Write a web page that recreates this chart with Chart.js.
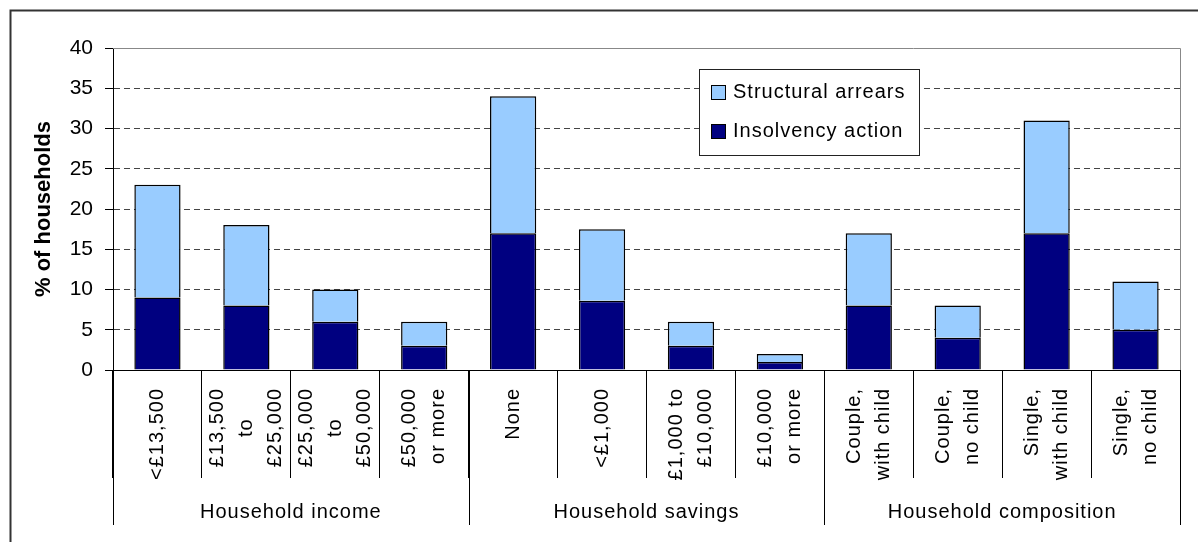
<!DOCTYPE html>
<html>
<head>
<meta charset="utf-8">
<script src="https://cdn.jsdelivr.net/npm/chart.js@4"></script>
<style>
body{margin:0;background:#fff;}
</style>
</head>
<body>
<canvas id="grafico" width="1198" height="542"></canvas>
<script>
var categorias = [["<£13,500"], ["£13,500","to","£25,000"], ["£25,000","to","£50,000"], ["£50,000","or more"],
                  ["None"], ["<£1,000"], ["£1,000 to","£10,000"], ["£10,000","or more"],
                  ["Couple,","with child"], ["Couple,","no child"], ["Single,","with child"], ["Single,","no child"]];
var grupos = ["Household income","Household savings","Household composition"];
var tamGrupos = [4,4,4];
var insolvencia = [9, 8, 6, 3, 17, 8.6, 3, 1, 8, 4, 17, 5];
var atrasos = [14, 10, 4, 3, 17, 8.9, 3, 1, 9, 4, 14, 6];
var yMin = 0, yMax = 40, yPaso = 5;

var fuente = '"Liberation Sans", Arial, sans-serif';
var azulClaro = '#99CCFF', azulOscuro = '#000080';

Chart.defaults.font.family = fuente;
Chart.defaults.color = '#000';

// marco, etiquetas de categoria, grupos y leyenda
var extras = {
  id: 'extras',
  beforeDraw: function(chart){
    var ctx = chart.ctx;
    ctx.save();
    ctx.fillStyle = '#fff';
    ctx.fillRect(0, 0, chart.width, chart.height);
    ctx.strokeStyle = '#333';
    ctx.lineWidth = 2;
    ctx.strokeRect(10.5, 10.5, chart.width + 20, chart.height + 20);
    ctx.restore();
  },
  afterDraw: function(chart){
    var ctx = chart.ctx, x = chart.scales.x, y = chart.scales.y;
    var paso = x.getPixelForValue(1) - x.getPixelForValue(0);
    var arriba = Math.round(y.getPixelForValue(yMax)) + 0.5;
    var base = Math.round(y.getPixelForValue(0));
    var der = Math.round(x.right) + 0.5;

    ctx.save();
    // borde gris del area de trazado
    ctx.strokeStyle = '#888';
    ctx.lineWidth = 1;
    ctx.beginPath();
    ctx.moveTo(x.left, arriba);
    ctx.lineTo(der, arriba);
    ctx.lineTo(der, base);
    ctx.stroke();

    ctx.font = '20px ' + fuente;
    ctx.letterSpacing = '1px';
    ctx.fillStyle = '#000';

    // etiquetas giradas
    var topeY = base + 18;
    var interlinea = 29;
    for (var i = 0; i < chart.data.labels.length; i++) {
      var lineas = chart.data.labels[i];
      var cx = x.getPixelForValue(i);
      var maxAncho = 0;
      for (var k = 0; k < lineas.length; k++) maxAncho = Math.max(maxAncho, ctx.measureText(lineas[k]).width);
      for (var j = 0; j < lineas.length; j++) {
        var lx = cx + (j - (lineas.length - 1) / 2) * interlinea;
        ctx.save();
        ctx.translate(lx, topeY);
        ctx.rotate(-Math.PI / 2);
        ctx.textBaseline = 'middle';
        if (lineas.length == 3 && j == 1) {
          ctx.textAlign = 'center';
          ctx.fillText(lineas[j], -maxAncho / 2, 0);
        } else {
          ctx.textAlign = 'right';
          ctx.fillText(lineas[j], 0, 0);
        }
        ctx.restore();
      }
    }

    // separadores y nombres de grupo
    ctx.strokeStyle = '#000';
    ctx.lineWidth = 1;
    var ini = 0;
    for (var g = 0; g <= grupos.length; g++) {
      var gx = Math.round(x.getPixelForValue(ini) - paso / 2) + 0.5;
      ctx.beginPath();
      ctx.moveTo(gx, base);
      ctx.lineTo(gx, base + 155);
      ctx.stroke();
      if (g < grupos.length) {
        var centro = x.getPixelForValue(ini) - paso / 2 + tamGrupos[g] * paso / 2;
        ctx.textAlign = 'center';
        ctx.textBaseline = 'middle';
        ctx.fillText(grupos[g], centro, base + 142);
        ini += tamGrupos[g];
      }
    }

    // leyenda
    var lx0 = 699.5, ly0 = 69.5;
    ctx.fillStyle = '#fff';
    ctx.fillRect(lx0, ly0, 220, 86);
    ctx.strokeStyle = '#222';
    ctx.strokeRect(lx0, ly0, 220, 86);
    var items = chart.data.datasets.slice().reverse();
    for (var m = 0; m < items.length; m++) {
      var iy = ly0 + 23 + m * 39;
      ctx.fillStyle = items[m].backgroundColor;
      ctx.fillRect(711.5, iy - 7, 14, 14);
      ctx.strokeStyle = '#000';
      ctx.strokeRect(711.5, iy - 7, 14, 14);
      ctx.fillStyle = '#000';
      ctx.textAlign = 'left';
      ctx.textBaseline = 'middle';
      ctx.fillText(items[m].label, 733, iy);
    }
    ctx.restore();
  }
};

var grafico = new Chart(document.getElementById("grafico"), {
  type: 'bar',
  data: {
    labels: categorias,
    datasets: [
      { label: "Insolvency action", data: insolvencia, backgroundColor: azulOscuro, borderColor: '#000', borderWidth: 1.5, barPercentage: 0.52, categoryPercentage: 1 },
      { label: "Structural arrears", data: atrasos, backgroundColor: azulClaro, borderColor: '#000', borderWidth: 1.5, barPercentage: 0.52, categoryPercentage: 1 }
    ]
  },
  options: {
    responsive: false,
    animation: false,
    layout: { padding: { top: 48, right: 18, left: 0, bottom: 0 } },
    plugins: { legend: { display: false }, tooltip: { enabled: false } },
    scales: {
      x: {
        stacked: true,
        ticks: { display: false },
        grid: { display: true, drawOnChartArea: false, drawTicks: true, tickLength: 108, offset: true, color: '#000', tickColor: '#000' },
        border: { display: true, color: '#000' },
        afterFit: function(s){ s.height = 172; }
      },
      y: {
        stacked: true,
        min: yMin,
        max: yMax,
        ticks: { stepSize: yPaso, color: '#000', font: { size: 21 }, padding: 12 },
        grid: {
          color: function(c){ return c.tick && c.tick.value == yMax ? '#888' : '#444'; },
          tickColor: '#000',
          tickLength: 8
        },
        border: { display: true, color: '#000', dash: [6, 4] },
        title: { display: true, text: '% of households', color: '#000', font: { size: 22, weight: 'bold' }, padding: { top: 31, bottom: 0 } },
        afterFit: function(s){ s.width = 113; }
      }
    }
  },
  plugins: [extras]
});
</script>
</body>
</html>
